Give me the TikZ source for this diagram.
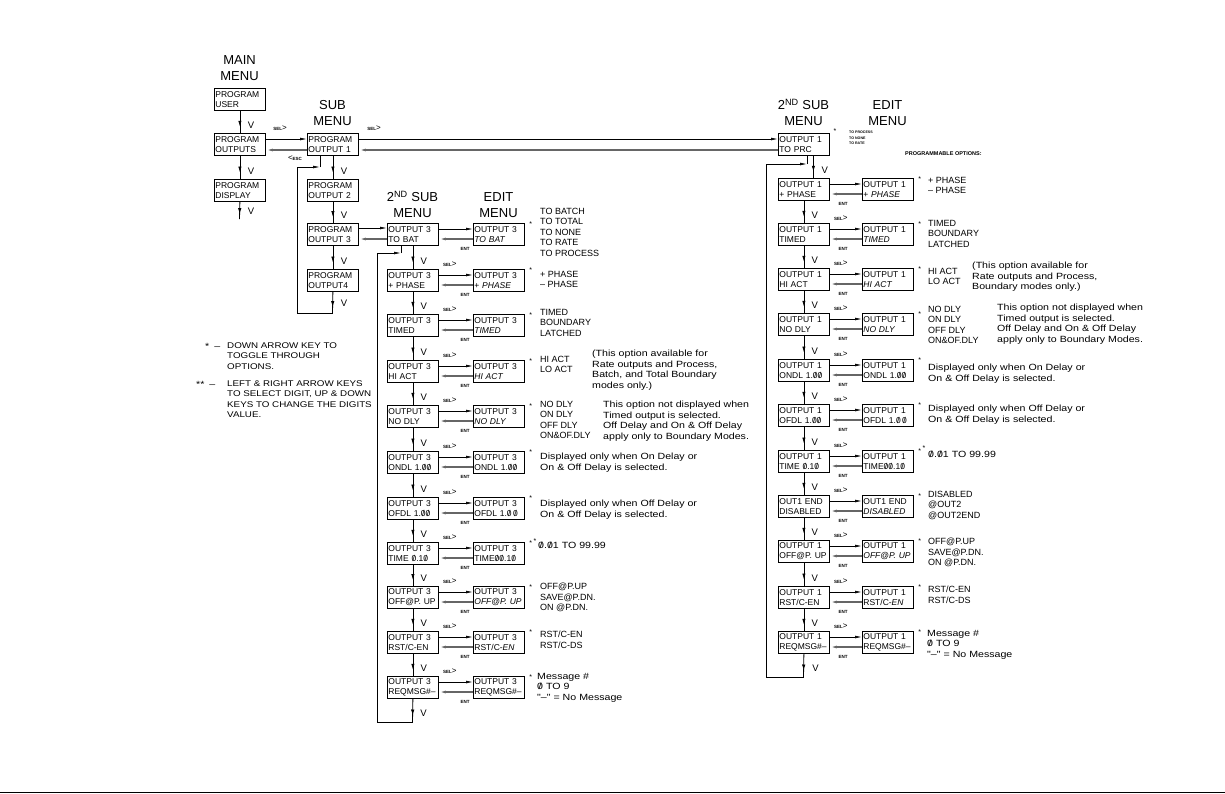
\documentclass[tikz,border=0pt]{standalone}
\usepackage{fontspec}
\setmainfont{Liberation Sans}
\newfontfamily\notefam[FakeStretch=1.18]{Liberation Sans}
\usetikzlibrary{arrows.meta,decorations.markings}
\newcommand{\boxfont}{\fontsize{8.5}{10}\selectfont}
\newcommand{\optfont}{\fontsize{9}{10.5}\selectfont}
\newcommand{\notefont}{\notefam\fontsize{9}{10.5}\selectfont}
\newcommand{\fnfont}{\notefam\fontsize{8.3}{10.5}\selectfont}
\newcommand{\titlefont}{\fontsize{13}{16}\selectfont}
\newcommand{\keyfont}{\fontsize{4.5}{5}\selectfont\bfseries}
\newcommand{\zr}{\ooalign{0\cr\hidewidth/\hidewidth\cr}}
\newcommand{\selkey}{{\keyfont SEL}{\fontsize{8}{8}\selectfont >}}
\newcommand{\entdx}{-8}
% one menu line: display box, edit box, SEL/ENT arrows
\newcommand{\optrow}[6]{%
  \node[menubox] (#1) at (#2,#3) {#4};
  \node[menubox] (#1e) at (#5,#3) {#6};
  \draw[selarrow] ([yshift=-6pt]#1.north east) -- ([yshift=-6pt]#1e.north west);
  \draw[entarrow] ([yshift=-16pt]#1e.north west) -- ([yshift=-16pt]#1.north east);
  \node[keylbl] (#1ent) at ([shift={(\entdx,26)}]#1e.north west) {ENT};
  \node[starlbl] (#1st) at ([shift={(6,1)}]#1e.north east) {*};
}
% step down to the next menu line
\newcommand{\nextrow}[2]{%
  \draw[downarrow] (#1.south) -- (#2.north);
  \node[vlbl] (#2v) at ([shift={(11,-8)}]#2.north) {V};
  \node (#2sel) at ([shift={(11,-5)}]#2.north east) {\selkey};
}
\begin{document}
\begin{tikzpicture}[
  x=1pt, y=-1pt,
  every node/.style={inner sep=0pt},
  menubox/.style={draw, line width=0.8pt, anchor=north west,
    minimum width=51pt, minimum height=22pt, text width=49pt,
    inner xsep=1pt, align=left, font=\boxfont},
  menutitle/.style={anchor=south, align=center, font=\titlefont},
  opt/.style={anchor=north west, align=left, font=\optfont},
  note/.style={anchor=north west, align=left, font=\notefont},
  keylbl/.style={font=\keyfont},
  starlbl/.style={font=\fontsize{7}{7}\selectfont},
  vlbl/.style={font=\fontsize{9.5}{9.5}\selectfont},
  selarrow/.style={-{Latex[length=7pt,width=2.8pt]}, line width=0.7pt},
  entarrow/.style={-{Latex[length=7pt,width=2.8pt]}, line width=1.2pt, black!60},
  downarrow/.style={line width=0.8pt, postaction={decorate},
    decoration={markings,
      mark=at position 0.72 with {\arrow{Latex[length=6pt,width=3.4pt]}}}}]
\useasboundingbox (0,0) rectangle (1225,793);
\draw[line width=1pt] (0,792.5) -- (1225,792.5);

% titles
\node[menutitle] (tmain) at (239.5,81) {MAIN\\MENU};
\node[menutitle] (tsub) at (332.5,126) {SUB\\MENU};
\node[menutitle] (tsecl) at (412.5,218) {2\textsuperscript{ND} SUB\\MENU};
\node[menutitle] (tedl) at (498.5,218) {EDIT\\MENU};
\node[menutitle] (tsecr) at (803.5,126) {2\textsuperscript{ND} SUB\\MENU};
\node[menutitle] (tedr) at (887.5,126) {EDIT\\MENU};

% main menu
\node[menubox] (pusr) at (214,88) {PROGRAM\\USER};
\node[menubox] (pout) at (214,133) {PROGRAM\\OUTPUTS};
\node[menubox] (pdsp) at (214,179) {PROGRAM\\DISPLAY};
\coordinate (mend) at (239.5,219);
\draw[downarrow] (pusr.south) -- (pout.north);
\draw[downarrow] (pout.south) -- (pdsp.north);
\draw[downarrow] (pdsp.south) -- (mend);
\node[vlbl] (mv1) at (251,125) {V};
\node[vlbl] (mv2) at (251,171) {V};
\node[vlbl] (mv3) at (251,211) {V};

% sub menu
\node[menubox] (po1) at (307,133) {PROGRAM\\OUTPUT 1};
\node[menubox] (po2) at (307,179) {PROGRAM\\OUTPUT 2};
\node[menubox] (po3) at (307,223) {PROGRAM\\OUTPUT 3};
\node[menubox] (po4) at (307,269) {PROGRAM\\OUTPUT4};
\coordinate (pend) at (332.5,313);
\coordinate (pcorner) at (297,313);
\coordinate (pret) at (320,167);
\draw[downarrow] (po1.south) -- (po2.north);
\draw[downarrow] (po2.south) -- (po3.north);
\draw[downarrow] (po3.south) -- (po4.north);
\draw[downarrow] (po4.south) -- (pend);
\node[vlbl] (sv1) at (344,171) {V};
\node[vlbl] (sv2) at (344,215) {V};
\node[vlbl] (sv3) at (344,261) {V};
\node[vlbl] (sv4) at (344,303) {V};
\draw[selarrow] (pend) -- (pcorner) |- (pret);
\draw (pret) -- (pret |- po1.south);
\node (esc) at (295,158) {{\fontsize{8}{8}\selectfont <}{\keyfont ESC}};

% second sub menu, output 3
\optrow{a0}{387}{223}{OUTPUT 3\\TO BAT}{473}{OUTPUT 3\\\textit{TO BAT}}
\optrow{a1}{387}{269}{OUTPUT 3\\+ PHASE}{473}{OUTPUT 3\\+ \textit{PHASE}}
\optrow{a2}{387}{314}{OUTPUT 3\\TIMED}{473}{OUTPUT 3\\\textit{TIMED}}
\optrow{a3}{387}{360}{OUTPUT 3\\HI ACT}{473}{OUTPUT 3\\\textit{HI ACT}}
\optrow{a4}{387}{405}{OUTPUT 3\\NO DLY}{473}{OUTPUT 3\\\textit{NO DLY}}
\optrow{a5}{387}{451}{OUTPUT 3\\ONDL 1.\zr\zr}{473}{OUTPUT 3\\ONDL 1.\zr\zr}
\optrow{a6}{387}{497}{OUTPUT 3\\OFDL 1.\zr\zr}{473}{OUTPUT 3\\OFDL 1.\zr\,\zr}
\optrow{a7}{387}{542}{OUTPUT 3\\TIME \zr.1\zr}{473}{OUTPUT 3\\TIME\zr\zr.1\zr}
\optrow{a8}{387}{586}{OUTPUT 3\\OFF@P. UP}{473}{OUTPUT 3\\\textit{OFF@P. UP}}
\optrow{a9}{387}{631}{OUTPUT 3\\RST/C-EN}{473}{OUTPUT 3\\RST/C-\textit{EN}}
\optrow{a10}{387}{676}{OUTPUT 3\\REQMSG\#\mbox{–}}{473}{OUTPUT 3\\REQMSG\#\mbox{–}}
\nextrow{a0}{a1}
\nextrow{a1}{a2}
\nextrow{a2}{a3}
\nextrow{a3}{a4}
\nextrow{a4}{a5}
\nextrow{a5}{a6}
\nextrow{a6}{a7}
\nextrow{a7}{a8}
\nextrow{a8}{a9}
\nextrow{a9}{a10}
\coordinate (aend) at (412.5,722);
\coordinate (acorner) at (377,722);
\coordinate (aret) at (401,253);
\draw[downarrow] (a10.south) -- (aend);
\node[vlbl] (aendv) at ([shift={(11,-9)}]aend) {V};
\draw[selarrow] (aend) -- (acorner) |- (aret);
\draw (aret) -- (aret |- a0.south);
\node[starlbl] (a7st2) at (535,541) {*};

% options, output 3
\node[opt] (a0opt) at (540,208) {TO BATCH\\TO TOTAL\\TO NONE\\TO RATE\\TO PROCESS};
\node[opt] (a1opt) at (540,271) {+ PHASE\\– PHASE};
\node[opt] (a2opt) at (540,309) {TIMED\\BOUNDARY\\LATCHED};
\node[opt] (a3opt) at (540,356) {HI ACT\\LO ACT};
\node[note] (a3note) at (592,350) {(This option available for\\Rate outputs and Process,\\
  Batch, and Total Boundary\\modes only.)};
\node[opt] (a4opt) at (540,401) {NO DLY\\ON DLY\\OFF DLY\\ON\&OF.DLY};
\node[note] (a4note) at (603,401) {This option not displayed when\\Timed output is selected.\\
  Off Delay and On \& Off Delay\\apply only to Boundary Modes.};
\node[note] (a5opt) at (540,453) {Displayed only when On Delay or\\On \& Off Delay is selected.};
\node[note] (a6opt) at (540,500) {Displayed only when Off Delay or\\On \& Off Delay is selected.};
\node[note] (a7opt) at (538,542) {\zr.\zr1 TO 99.99};
\node[opt] (a8opt) at (540,583) {OFF@P.UP\\SAVE@P.DN.\\ON @P.DN.};
\node[opt] (a9opt) at (540,631) {RST/C-EN\\RST/C-DS};
\node[note] (a10opt) at (537,673) {Message \#\\\zr{} TO 9\\"–" = No Message};

% second sub menu, output 1
\node[menubox] (b0) at (778,133) {OUTPUT 1\\TO PRC};
\node[starlbl] (b0st) at (835,131) {*};
\renewcommand{\entdx}{-19}
\optrow{b1}{778}{178}{OUTPUT 1\\+ PHASE}{862}{OUTPUT 1\\+ \textit{PHASE}}
\optrow{b2}{778}{223}{OUTPUT 1\\TIMED}{862}{OUTPUT 1\\\textit{TIMED}}
\optrow{b3}{778}{268}{OUTPUT 1\\HI ACT}{862}{OUTPUT 1\\\textit{HI ACT}}
\optrow{b4}{778}{313}{OUTPUT 1\\NO DLY}{862}{OUTPUT 1\\\textit{NO DLY}}
\optrow{b5}{778}{359}{OUTPUT 1\\ONDL 1.\zr\zr}{862}{OUTPUT 1\\ONDL 1.\zr\zr}
\optrow{b6}{778}{404}{OUTPUT 1\\OFDL 1.\zr\zr}{862}{OUTPUT 1\\OFDL 1.\zr\,\zr}
\optrow{b7}{778}{450}{OUTPUT 1\\TIME \zr.1\zr}{862}{OUTPUT 1\\TIME\zr\zr.1\zr}
\optrow{b8}{778}{495}{OUT1 END\\DISABLED}{862}{OUT1 END\\\textit{DISABLED}}
\optrow{b9}{778}{540}{OUTPUT 1\\OFF@P. UP}{862}{OUTPUT 1\\\textit{OFF@P. UP}}
\optrow{b10}{778}{586}{OUTPUT 1\\RST/C-EN}{862}{OUTPUT 1\\RST/C-\textit{EN}}
\optrow{b11}{778}{631}{OUTPUT 1\\REQMSG\#\mbox{–}}{862}{OUTPUT 1\\REQMSG\#\mbox{–}}
\draw[downarrow] ([xshift=9.5pt]b0.south) -- ([xshift=9.5pt]b1.north);
\node[vlbl] (b1v) at ([shift={(21,-8)}]b1.north) {V};
\nextrow{b1}{b2}
\nextrow{b2}{b3}
\nextrow{b3}{b4}
\nextrow{b4}{b5}
\nextrow{b5}{b6}
\nextrow{b6}{b7}
\nextrow{b7}{b8}
\nextrow{b8}{b9}
\nextrow{b9}{b10}
\nextrow{b10}{b11}
\coordinate (bend) at (803.5,677);
\coordinate (bcorner) at (766,677);
\coordinate (bret) at (807,164);
\draw[downarrow] (b11.south) -- (bend);
\node[vlbl] (bendv) at ([shift={(12,-9)}]bend) {V};
\draw[selarrow] (bend) -- (bcorner) |- (bret);
\draw (bret) -- (bret |- b0.south);
\node[starlbl] (b7st2) at (924,448) {*};

% options, output 1
\node[anchor=north west, align=left, font={\fontsize{3.6}{5.5}\selectfont\bfseries}]
  (b0opt) at (849,131) {TO PROCESS\\TO NONE\\TO RATE};
\node[anchor=west, font={\fontsize{5.5}{6}\selectfont\bfseries}]
  (progopt) at (905,154) {PROGRAMMABLE OPTIONS:};
\node[opt] (b1opt) at (928,177) {+ PHASE\\– PHASE};
\node[opt] (b2opt) at (928,220) {TIMED\\BOUNDARY\\LATCHED};
\node[opt] (b3opt) at (928,268) {HI ACT\\LO ACT};
\node[note] (b3note) at (972,262) {(This option available for\\Rate outputs and Process,\\
  Boundary modes only.)};
\node[opt] (b4opt) at (928,306) {NO DLY\\ON DLY\\OFF DLY\\ON\&OF.DLY};
\node[note] (b4note) at (997,304) {This option not displayed when\\Timed output is selected.\\
  Off Delay and On \& Off Delay\\apply only to Boundary Modes.};
\node[note] (b5opt) at (928,364) {Displayed only when On Delay or\\On \& Off Delay is selected.};
\node[note] (b6opt) at (928,405) {Displayed only when Off Delay or\\On \& Off Delay is selected.};
\node[note] (b7opt) at (928,451) {\zr.\zr1 TO 99.99};
\node[opt] (b8opt) at (928,491) {DISABLED\\@OUT2\\@OUT2END};
\node[opt] (b9opt) at (928,538) {OFF@P.UP\\SAVE@P.DN.\\ON @P.DN.};
\node[opt] (b10opt) at (928,586) {RST/C-EN\\RST/C-DS};
\node[note] (b11opt) at (927,630) {Message \#\\\zr{} TO 9\\"–" = No Message};

% links between menus
\draw[selarrow] ([yshift=-6pt]pout.north east) -- ([yshift=-6pt]po1.north west);
\draw[entarrow] ([yshift=-17pt]po1.north west) -- ([yshift=-17pt]pout.north east);
\node (sel0) at (280,128) {\selkey};
\draw[selarrow] ([yshift=-6pt]po1.north east) -- ([yshift=-6pt]b0.north west);
\draw[entarrow] ([yshift=-17pt]b0.north west) -- ([yshift=-17pt]po1.north east);
\node (sel1) at (374,128) {\selkey};
\draw[selarrow] ([yshift=-5pt]po3.north east) -- ([yshift=-5pt]a0.north west);
\draw[entarrow] ([yshift=-16pt]a0.north west) -- ([yshift=-16pt]po3.north east);

% key notes
\node[note] (fn1key) at (205,343) {*\hspace{5pt}–};
\node[note, font=\fnfont] (fn1) at (227,342) {DOWN ARROW KEY TO\\TOGGLE THROUGH\\OPTIONS.};
\node[note] (fn2key) at (196,381) {**\hspace{5pt}–};
\node[note, font=\fnfont] (fn2) at (227,380) {LEFT \& RIGHT ARROW KEYS\\TO SELECT DIGIT, UP \& DOWN\\
  KEYS TO CHANGE THE DIGITS\\VALUE.};
\end{tikzpicture}
\end{document}
